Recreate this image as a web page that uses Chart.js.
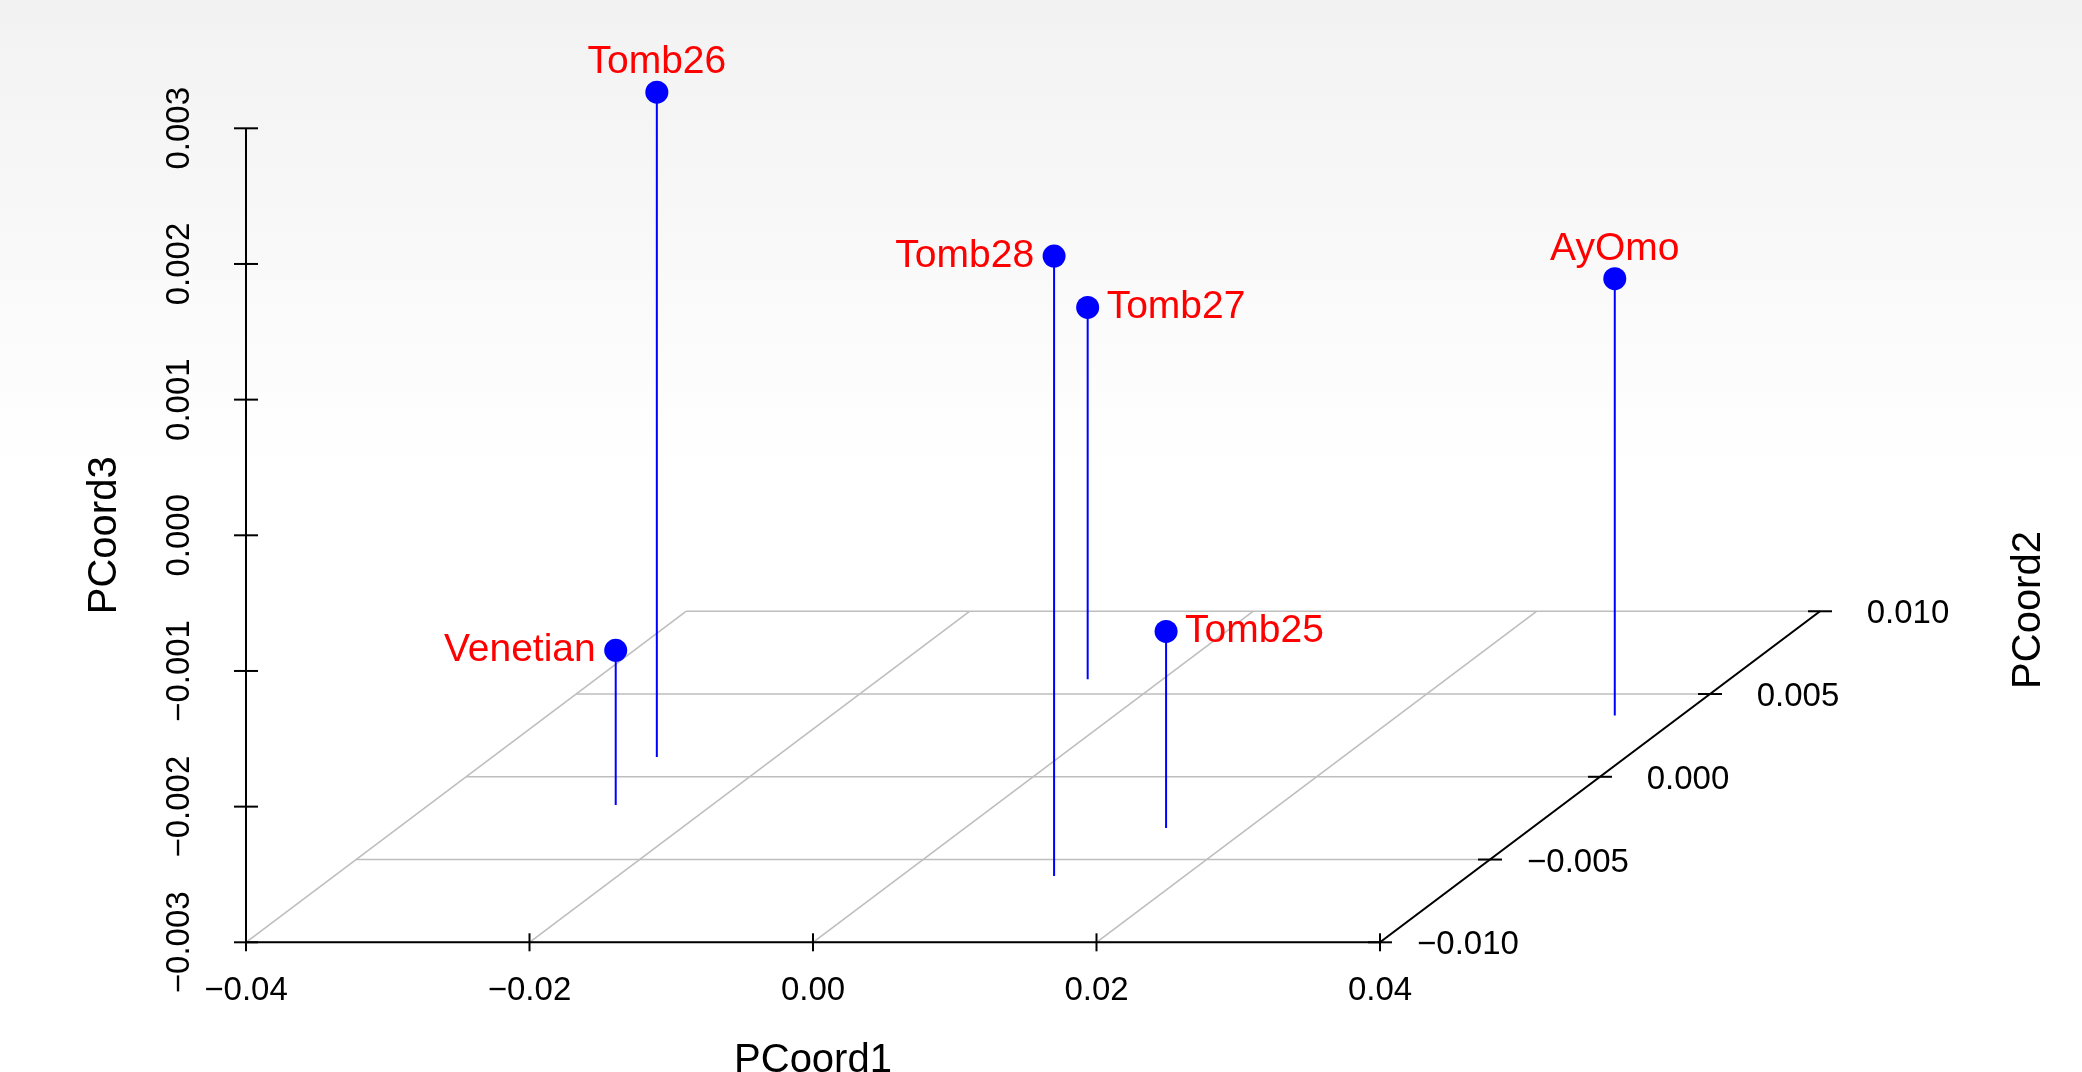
<!DOCTYPE html>
<html>
<head>
<meta charset="utf-8">
<script src="https://cdn.jsdelivr.net/npm/chart.js@4.4.1/dist/chart.umd.min.js"></script>
<style>
html,body{margin:0;padding:0;}
body{width:2082px;height:1072px;overflow:hidden;
 background:linear-gradient(to bottom,#f2f2f2 0px,#f6f6f6 150px,#fbfbfb 330px,#ffffff 470px);}
#wrap{position:relative;width:2082px;height:1072px;}
</style>
</head>
<body>
<div id="wrap"><canvas id="c"></canvas></div>
<script>
// ---- data ----
const names   = ["Tomb26", "Venetian", "Tomb28", "Tomb27", "Tomb25", "AyOmo"];
const pcoord1 = [-0.0284, -0.0268, 0.0108, -0.0053, 0.0142, 0.0353];
const pcoord2 = [0.0012, -0.0017, -0.0060, 0.0059, -0.0031, 0.0037];
const pcoord3 = [0.00190, -0.00186, 0.00157, -0.00026, -0.00155, 0.00022];

const xTicks = [-0.04, -0.02, 0.00, 0.02, 0.04];
const xTickLabels = ["\u22120.04", "\u22120.02", "0.00", "0.02", "0.04"];
const yTicks = [-0.010, -0.005, 0.000, 0.005, 0.010];
const yTickLabels = ["\u22120.010", "\u22120.005", "0.000", "0.005", "0.010"];
const zTicks = [-0.003, -0.002, -0.001, 0.000, 0.001, 0.002, 0.003];
const zTickLabels = ["\u22120.003", "\u22120.002", "\u22120.001", "0.000", "0.001", "0.002", "0.003"];

const xTitle = "PCoord1", yTitle = "PCoord2", zTitle = "PCoord3";

// ---- projection settings (style) ----
const X_RANGE = [-0.04, 0.04], Y_RANGE = [-0.01, 0.01], Z_RANGE = [-0.003, 0.003];
const DEPTH_X = 0.031041;   // shift along PCoord1 units for full PCoord2 depth
const DEPTH_Z = 0.00244;    // shift along PCoord3 units for full PCoord2 depth
const Z_HEAD = 0.0006;      // headroom above the z axis inside the plot area
const labelSide = ["top", "left", "left", "right", "right", "top"];

function proj(x, y, z) {
  const f = (y - Y_RANGE[0]) / (Y_RANGE[1] - Y_RANGE[0]);
  return { x: x + f * DEPTH_X, y: z + f * DEPTH_Z };
}

const points = names.map((n, i) => proj(pcoord1[i], pcoord2[i], pcoord3[i]));
const stems = [];
names.forEach((n, i) => {
  const top = proj(pcoord1[i], pcoord2[i], pcoord3[i]);
  const bot = proj(pcoord1[i], pcoord2[i], Z_RANGE[0]);
  stems.push(top, bot, { x: bot.x, y: null });
});

const FONT = '"Liberation Sans", Arial, Helvetica, sans-serif';

const frame3d = {
  id: 'frame3d',
  beforeDatasetsDraw(chart) {
    const ctx = chart.ctx, xs = chart.scales.x, ys = chart.scales.y;
    const P = (x, y, z) => { const p = proj(x, y, z); return [xs.getPixelForValue(p.x), ys.getPixelForValue(p.y)]; };
    const line = (a, b) => { ctx.beginPath(); ctx.moveTo(a[0], a[1]); ctx.lineTo(b[0], b[1]); ctx.stroke(); };
    ctx.save();
    ctx.lineCap = 'butt';
    // floor grid
    ctx.strokeStyle = '#bebebe'; ctx.lineWidth = 1.6;
    yTicks.forEach(v => line(P(X_RANGE[0], v, Z_RANGE[0]), P(X_RANGE[1], v, Z_RANGE[0])));
    xTicks.forEach(v => line(P(v, Y_RANGE[0], Z_RANGE[0]), P(v, Y_RANGE[1], Z_RANGE[0])));
    // axes
    ctx.strokeStyle = '#000'; ctx.lineWidth = 2;
    line(P(X_RANGE[0], Y_RANGE[0], Z_RANGE[0]), P(X_RANGE[1], Y_RANGE[0], Z_RANGE[0]));
    line(P(X_RANGE[0], Y_RANGE[0], Z_RANGE[0]), P(X_RANGE[0], Y_RANGE[0], Z_RANGE[1]));
    line(P(X_RANGE[1], Y_RANGE[0], Z_RANGE[0]), P(X_RANGE[1], Y_RANGE[1], Z_RANGE[0]));
    ctx.fillStyle = '#000';
    ctx.font = '33px ' + FONT;
    // x ticks
    ctx.textAlign = 'center'; ctx.textBaseline = 'alphabetic';
    xTicks.forEach((v, i) => {
      const p = P(v, Y_RANGE[0], Z_RANGE[0]);
      line([p[0], p[1] - 9], [p[0], p[1] + 9]);
      ctx.fillText(xTickLabels[i], p[0], p[1] + 58);
    });
    // y (depth) ticks
    yTicks.forEach((v, i) => {
      const p = P(X_RANGE[1], v, Z_RANGE[0]);
      line([p[0] - 12, p[1]], [p[0] + 12, p[1]]);
      ctx.fillText(yTickLabels[i], p[0] + 88, p[1] + 12);
    });
    // z ticks
    zTicks.forEach((v, i) => {
      const p = P(X_RANGE[0], Y_RANGE[0], v);
      line([p[0] - 12, p[1]], [p[0] + 12, p[1]]);
      ctx.save();
      ctx.translate(p[0] - 57, p[1]);
      ctx.rotate(-Math.PI / 2);
      ctx.fillText(zTickLabels[i], 0, 0);
      ctx.restore();
    });
    // titles
    ctx.font = '40px ' + FONT;
    const xt = P((X_RANGE[0] + X_RANGE[1]) / 2, Y_RANGE[0], Z_RANGE[0]);
    ctx.fillText(xTitle, xt[0], xt[1] + 130);
    const zt = P(X_RANGE[0], Y_RANGE[0], (Z_RANGE[0] + Z_RANGE[1]) / 2);
    ctx.save(); ctx.translate(zt[0] - 130, zt[1]); ctx.rotate(-Math.PI / 2); ctx.fillText(zTitle, 0, 0); ctx.restore();
    const ca = chart.chartArea;
    ctx.save(); ctx.translate(ca.right + 220, 610); ctx.rotate(-Math.PI / 2); ctx.fillText(yTitle, 0, 0); ctx.restore();
    ctx.restore();
  },
  afterDatasetsDraw(chart) {
    const ctx = chart.ctx, xs = chart.scales.x, ys = chart.scales.y;
    ctx.save();
    ctx.fillStyle = '#ff0000';
    ctx.font = '39px ' + FONT;
    ctx.textBaseline = 'alphabetic';
    points.forEach((pt, i) => {
      const px = xs.getPixelForValue(pt.x), py = ys.getPixelForValue(pt.y);
      const side = labelSide[i];
      if (side === 'top') { ctx.textAlign = 'center'; ctx.fillText(names[i], px, py - 19); }
      else if (side === 'left') { ctx.textAlign = 'right'; ctx.fillText(names[i], px - 20, py + 11); }
      else { ctx.textAlign = 'left'; ctx.fillText(names[i], px + 19, py + 11); }
    });
    ctx.restore();
  }
};

// plot area: z from -0.003 (y=942.3px) to 0.003 (y=128.3px), plus headroom above
const PX_PER_Z = 814 / (Z_RANGE[1] - Z_RANGE[0]);
const TOP_PAD = 128.3 - Z_HEAD * PX_PER_Z;

new Chart(document.getElementById('c'), {
  type: 'scatter',
  data: {
    datasets: [
      { type: 'line', data: stems, borderColor: '#0000ff', borderWidth: 2, pointRadius: 0,
        spanGaps: false, fill: false, tension: 0, clip: false, order: 2 },
      { type: 'scatter', data: points, pointRadius: 11.5, pointHoverRadius: 11.5,
        backgroundColor: '#0000ff', borderWidth: 0, clip: false, order: 1 }
    ]
  },
  options: {
    responsive: true, maintainAspectRatio: false, animation: false,
    layout: { padding: { left: 246, right: 262, top: TOP_PAD, bottom: 129.7 } },
    scales: {
      x: { type: 'linear', min: X_RANGE[0], max: X_RANGE[1] + DEPTH_X, display: false },
      y: { type: 'linear', min: Z_RANGE[0], max: Z_RANGE[1] + Z_HEAD, display: false }
    },
    plugins: { legend: { display: false }, tooltip: { enabled: false } },
    events: []
  },
  plugins: [frame3d]
});
</script>
</body>
</html>
